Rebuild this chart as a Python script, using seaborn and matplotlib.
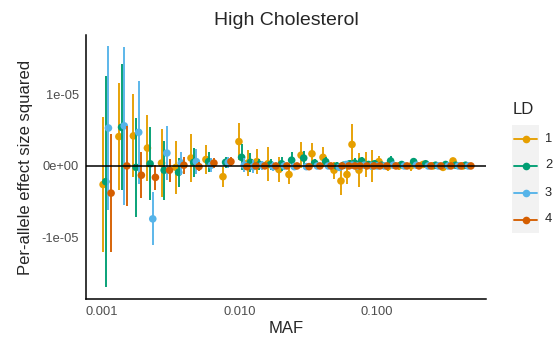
import numpy as np
import pandas as pd
import matplotlib
matplotlib.use("Agg")
import matplotlib.pyplot as plt
from matplotlib.lines import Line2D
from matplotlib.patches import Rectangle
import seaborn as sns

# MAF bins (x) and per-LD effect sizes / half-widths, in units of 1e-05
maf = [0.00109, 0.00142, 0.00181, 0.00229, 0.00290, 0.00369, 0.00475, 0.00610,
       0.00811, 0.0106, 0.0123, 0.0143, 0.0172, 0.0207, 0.0245, 0.0300, 0.0360,
       0.0433, 0.0521, 0.0585, 0.0647, 0.0704, 0.0791, 0.0889, 0.0983, 0.1105,
       0.1285, 0.1546, 0.189, 0.231, 0.273, 0.323, 0.382, 0.451]

ld1_est = [-0.26, 0.41, 0.42, 0.25, 0.04, -0.02, 0.11, 0.09, -0.15, 0.34, 0.04, 0.06,
           0.03, -0.05, -0.12, 0.15, 0.17, 0.12, -0.06, -0.21, -0.12, 0.30, -0.06, 0.02,
           0.00, 0.06, -0.01, 0.00, 0.00, 0.02, 0.00, -0.02, 0.07, 0.00]
ld1_err = [0.94, 0.75, 0.58, 0.46, 0.47, 0.37, 0.34, 0.20, 0.14, 0.26, 0.18, 0.17,
           0.24, 0.18, 0.13, 0.18, 0.15, 0.14, 0.12, 0.20, 0.13, 0.28, 0.24, 0.17,
           0.22, 0.08, 0.06, 0.05, 0.07, 0.04, 0.04, 0.03, 0.04, 0.02]

ld2_est = [-0.22, 0.54, -0.02, 0.03, -0.06, -0.09, 0.05, 0.06, 0.05, 0.12, 0.05, 0.02,
           0.02, 0.03, 0.08, 0.11, 0.04, 0.06, 0.00, 0.01, 0.03, 0.04, 0.07, 0.02,
           0.03, 0.01, 0.07, 0.02, 0.06, 0.03, 0.01, 0.02, 0.01, 0.01]
ld2_err = [1.47, 0.88, 0.69, 0.51, 0.41, 0.20, 0.20, 0.14, 0.08, 0.18, 0.13, 0.08,
           0.08, 0.10, 0.12, 0.10, 0.05, 0.06, 0.05, 0.05, 0.05, 0.07, 0.06, 0.05,
           0.05, 0.04, 0.07, 0.04, 0.05, 0.04, 0.03, 0.03, 0.03, 0.02]

ld3_est = [0.53, 0.56, 0.47, -0.74, 0.18, 0.04, 0.06, 0.01, 0.05, 0.01, -0.01, 0.01,
           -0.01, 0.00, -0.01, -0.01, 0.00, 0.00, -0.02, 0.02, 0.01, 0.00, 0.01, 0.00,
           0.00, 0.00, 0.01, 0.00, 0.01, 0.00, 0.00, 0.00, 0.00, 0.00]
ld3_err = [1.14, 1.10, 0.72, 0.37, 0.38, 0.16, 0.17, 0.10, 0.08, 0.10, 0.09, 0.06,
           0.06, 0.05, 0.05, 0.05, 0.04, 0.04, 0.05, 0.04, 0.05, 0.04, 0.04, 0.04,
           0.03, 0.03, 0.03, 0.03, 0.03, 0.02, 0.02, 0.02, 0.02, 0.02]

ld4_est = [-0.38, 0.00, -0.13, -0.16, -0.06, 0.01, -0.01, 0.04, 0.06, -0.01, 0.00, 0.00,
           0.00, 0.00, 0.00, -0.01, 0.00, 0.00, 0.00, 0.00, 0.00, 0.00, 0.00, 0.00,
           0.00, 0.00, 0.00, 0.00, 0.00, 0.00, 0.00, 0.00, 0.00, 0.00]
ld4_err = [0.82, 0.56, 0.32, 0.17, 0.16, 0.12, 0.06, 0.07, 0.06, 0.05, 0.04, 0.03,
           0.03, 0.03, 0.03, 0.03, 0.03, 0.02, 0.02, 0.02, 0.02, 0.02, 0.02, 0.02,
           0.02, 0.02, 0.02, 0.02, 0.02, 0.02, 0.02, 0.02, 0.02, 0.02]

ld_levels = ["1", "2", "3", "4"]
colors = ["#E69F00", "#009E73", "#56B4E9", "#D55E00"]
x_ticks = [0.001, 0.01, 0.1]
x_ticklabels = ["0.001", "0.010", "0.100"]
y_ticks = [-1e-05, 0, 1e-05]
y_ticklabels = ["-1e-05", "0e+00", "1e-05"]

scale = 1e-05
dodge = [-0.029, -0.0097, 0.0097, 0.029]  # log10 offsets, like position_dodge

rows = []
for lvl, est, err, off in zip(ld_levels,
                              [ld1_est, ld2_est, ld3_est, ld4_est],
                              [ld1_err, ld2_err, ld3_err, ld4_err], dodge):
    for m, e, s in zip(maf, est, err):
        rows.append({"MAF": m * 10 ** off, "LD": lvl,
                     "beta": e * scale, "lo": (e - s) * scale, "hi": (e + s) * scale})
df = pd.DataFrame(rows)

sns.set_style("white")
plt.rcParams["font.family"] = ["Liberation Sans", "DejaVu Sans"]

W, H = 557, 347
fig = plt.figure(figsize=(W / 100, H / 100), dpi=100)
ax = fig.add_axes([86 / W, 1 - 299 / H, 400 / W, 264 / H])

for i, (lvl, c) in enumerate(zip(ld_levels, colors)):
    sub = df[df["LD"] == lvl]
    ax.vlines(sub["MAF"], sub["lo"], sub["hi"], color=c, lw=1.35, zorder=2 + i)
    sns.scatterplot(data=sub, x="MAF", y="beta", color=c, s=30, edgecolor="none",
                    ax=ax, zorder=2 + i, legend=False)

ax.axhline(0, color="black", lw=1.1, zorder=10)

ax.set_xscale("log")
ax.set_xlim(10 ** -3.116, 10 ** -0.207)
ax.set_ylim(-1.86e-05, 1.83e-05)
ax.set_xticks(x_ticks)
ax.set_xticklabels(x_ticklabels)
ax.xaxis.set_minor_locator(matplotlib.ticker.NullLocator())
ax.set_yticks(y_ticks)
ax.set_yticklabels(y_ticklabels)
ax.tick_params(axis="both", length=3, width=0.8, color="#333333",
               labelcolor="#4D4D4D", labelsize=9.3, pad=2, direction="out")
for side in ["top", "right"]:
    ax.spines[side].set_visible(False)
for side in ["left", "bottom"]:
    ax.spines[side].set_color("black")
    ax.spines[side].set_linewidth(1.1)

ax.set_xlabel("MAF", fontsize=12, labelpad=2)
ax.set_ylabel("Per-allele effect size squared", fontsize=12, labelpad=6)
ax.set_title("High Cholesterol", fontsize=14, pad=7)

# legend drawn in the ggplot style: grey key boxes with line + point
fig.text(513 / W, 1 - 110 / H, "LD", fontsize=12, va="center", ha="left")
fig.add_artist(Rectangle((512 / W, 1 - 233 / H), 27 / W, 108 / H,
                         transform=fig.transFigure, facecolor="#F2F2F2",
                         edgecolor="none"))
for i, (lvl, c) in enumerate(zip(ld_levels, colors)):
    yk = 1 - (138.5 + 27 * i) / H
    fig.add_artist(Line2D([514 / W, 537 / W], [yk, yk], transform=fig.transFigure,
                          color=c, lw=1.35))
    fig.add_artist(Line2D([525.5 / W], [yk], transform=fig.transFigure, color=c,
                          marker="o", markersize=5.5, markeredgewidth=0))
    fig.text(545 / W, yk, lvl, fontsize=9.3, va="center", ha="left")

fig.savefig("out.png", dpi=100)
